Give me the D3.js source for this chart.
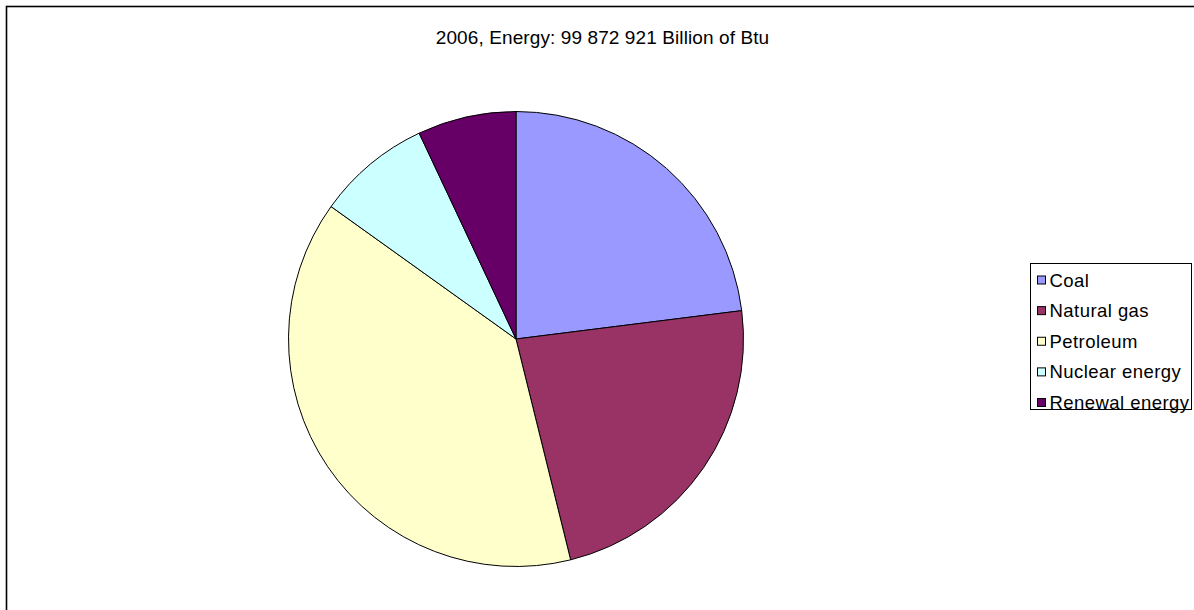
<!DOCTYPE html>
<html>
<head>
<meta charset="utf-8">
<script src="https://cdn.jsdelivr.net/npm/d3@7"></script>
<style>
	body { margin: 0; background: #fff; }
	svg { display: block; }
	text { font-family: "Liberation Sans", Arial, Helvetica, sans-serif; fill: #000; }
</style>
</head>
<body>
<div id="chart"></div>
<script>
var W = 1194, H = 610;

// 2006 energy consumption, billion Btu
var sources = ["Coal", "Natural gas", "Petroleum", "Nuclear energy", "Renewal energy"];
var values = [22980000, 23100000, 38700000, 8100000, 6990000];
var colors = ["#9999ff", "#993366", "#ffffcc", "#ccffff", "#660066"];
var title = "2006, Energy: 99 872 921 Billion of Btu";

var cx = 516, cy = 339, radius = 227.5;

var svg = d3.select("#chart").append("svg")
	.attr("width", W)
	.attr("height", H);

// chart frame (runs off the right and bottom edge)
svg.append("rect")
	.attr("x", 6.5)
	.attr("y", 6.5)
	.attr("width", 1210)
	.attr("height", 640)
	.attr("fill", "#fff")
	.attr("stroke", "#000")
	.attr("stroke-width", 1.6);

svg.append("text")
	.attr("x", 602.5)
	.attr("y", 44)
	.attr("text-anchor", "middle")
	.style("font-size", "19px")
	.style("letter-spacing", "0.1px")
	.text(title);

var pie = d3.pie().sort(null).value(d => d);
var arc = d3.arc().innerRadius(0).outerRadius(radius);

svg.append("g")
	.attr("transform", "translate(" + cx + "," + cy + ")")
	.selectAll("path")
	.data(pie(values))
	.enter()
	.append("path")
	.attr("d", arc)
	.attr("fill", (d, i) => colors[i])
	.attr("stroke", "#000")
	.attr("stroke-width", 1)
	.attr("stroke-linejoin", "round");

// legend
var lg = svg.append("g");
lg.append("rect")
	.attr("x", 1030.5)
	.attr("y", 263.5)
	.attr("width", 161)
	.attr("height", 146)
	.attr("fill", "#fff")
	.attr("stroke", "#000")
	.attr("stroke-width", 1);

var rowY = d3.scalePoint().domain(sources).range([280.5, 403]);

var rows = lg.selectAll("g.row")
	.data(sources)
	.enter()
	.append("g")
	.attr("class", "row")
	.attr("transform", d => "translate(0," + rowY(d) + ")");

rows.append("rect")
	.attr("x", 1037.5)
	.attr("y", -4.5)
	.attr("width", 8)
	.attr("height", 8)
	.attr("fill", (d, i) => colors[i])
	.attr("stroke", "#000")
	.attr("stroke-width", 1);

rows.append("text")
	.attr("x", 1049.5)
	.attr("y", 6)
	.style("font-size", "18.5px")
	.style("letter-spacing", "0.45px")
	.text(d => d);
</script>
</body>
</html>
